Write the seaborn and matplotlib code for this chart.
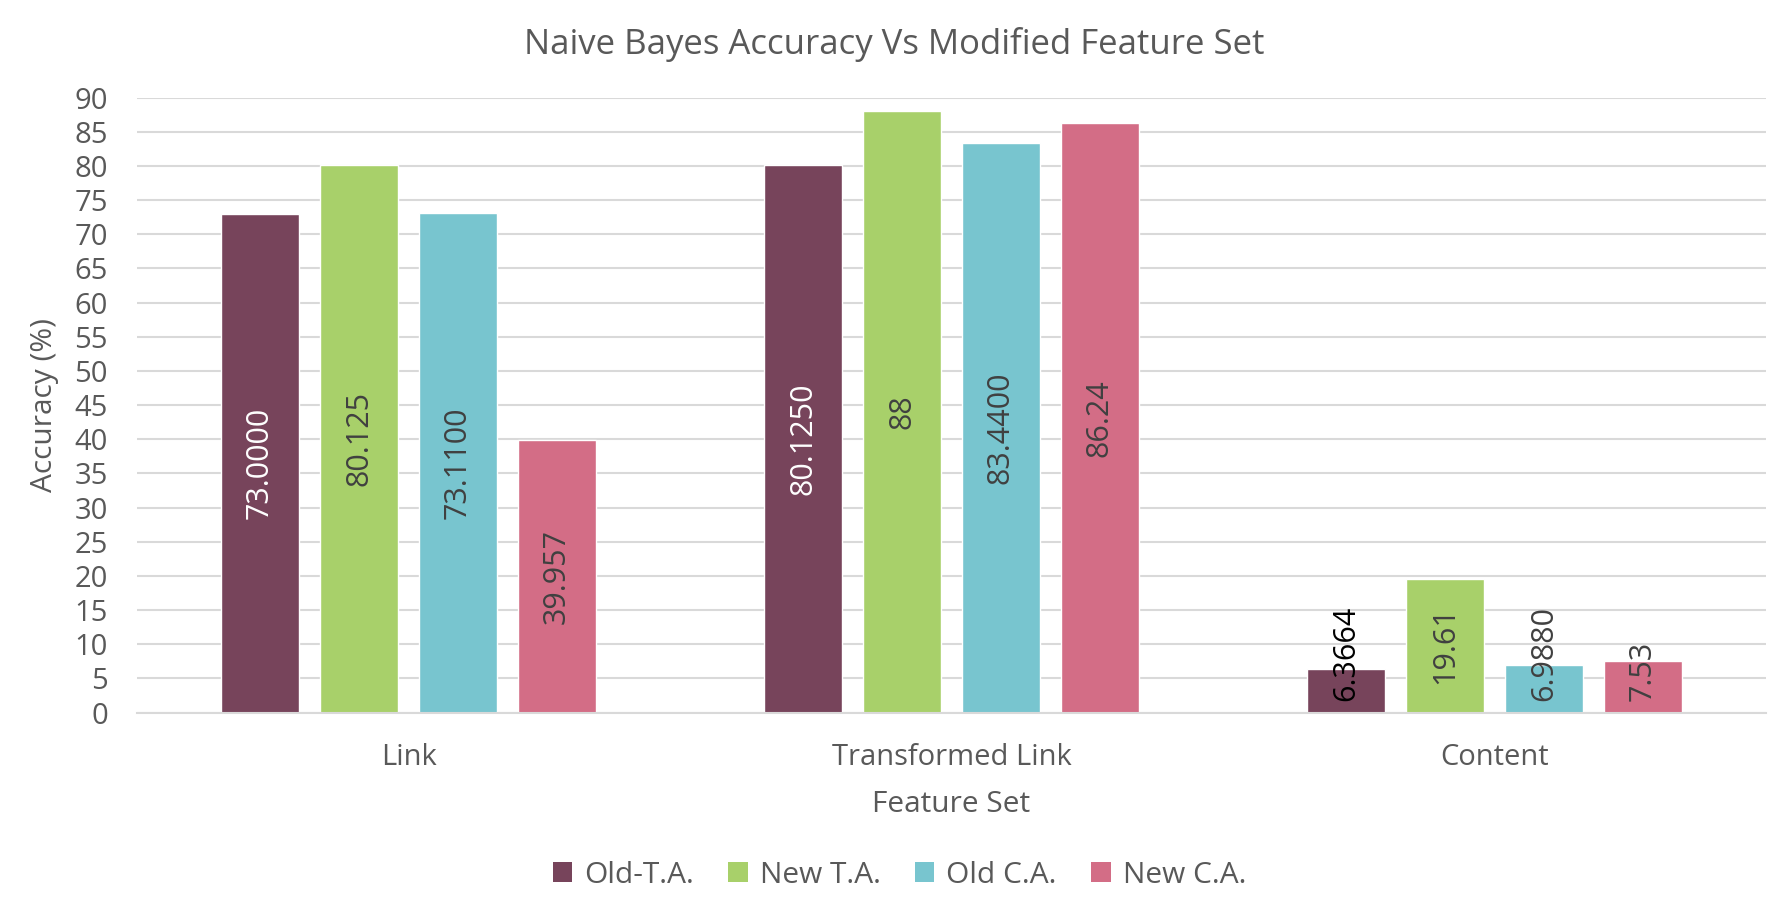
import matplotlib
matplotlib.use("Agg")
import matplotlib.pyplot as plt
import seaborn as sns
import pandas as pd
from matplotlib.patches import Patch

categories = ["Link", "Transformed Link", "Content"]
series = ["Old-T.A.", "New T.A.", "Old C.A.", "New C.A."]
old_ta = [73.0, 80.125, 6.3664]
new_ta = [80.125, 88.0, 19.61]
old_ca = [73.11, 83.44, 6.988]
new_ca = [39.957, 86.24, 7.53]
old_ta_labels = ["73.0000", "80.1250", "6.3664"]
new_ta_labels = ["80.125", "88", "19.61"]
old_ca_labels = ["73.1100", "83.4400", "6.9880"]
new_ca_labels = ["39.957", "86.24", "7.53"]
y_ticks = list(range(0, 95, 5))

values = [old_ta, new_ta, old_ca, new_ca]
labels = [old_ta_labels, new_ta_labels, old_ca_labels, new_ca_labels]
colors = ["#77445B", "#A8D06A", "#78C5CF", "#D36D86"]
text_colors = ["white", "#404040", "#404040", "#404040"]

rows = []
for s, vals in zip(series, values):
    for c, v in zip(categories, vals):
        rows.append({"Feature Set": c, "Accuracy": v, "Series": s})
df = pd.DataFrame(rows)

sns.set_theme(style="white")
plt.rcParams["font.family"] = ["Open Sans", "DejaVu Sans"]
GRAY = "#595959"

fig = plt.figure(figsize=(17.88, 9.13), dpi=100)
ax = fig.add_axes([137 / 1788, 1 - 712.5 / 913, (1766 - 137) / 1788, (712.5 - 97.7) / 913])

sns.barplot(data=df, x="Feature Set", y="Accuracy", hue="Series",
            order=categories, hue_order=series, palette=colors,
            width=0.729, gap=0.212, saturation=1, legend=False, ax=ax,
            errorbar=None)

ax.set_ylim(0, 90)
ax.set_yticks(y_ticks)
ax.yaxis.grid(True, color="#d9d9d9", linewidth=1.5)
ax.set_axisbelow(True)
for sp in ["top", "right", "left"]:
    ax.spines[sp].set_visible(False)
ax.spines["bottom"].set_color("#d9d9d9")
ax.spines["bottom"].set_linewidth(1.5)
ax.tick_params(axis="both", length=0, labelsize=21, labelcolor=GRAY)
ax.tick_params(axis="y", pad=21)
ax.tick_params(axis="x", pad=22)

ax.set_xlabel("Feature Set", fontsize=21.5, color=GRAY)
ax.set_ylabel("Accuracy (%)", fontsize=21.5, color=GRAY)
ax.xaxis.set_label_coords(0.5, -0.15)
ax.xaxis.label.set_va("center")
ax.yaxis.set_label_coords(-0.0565, 0.5)
ax.yaxis.label.set_va("center")

fig.text(0.5, 1 - 44 / 913, "Naive Bayes Accuracy Vs Modified Feature Set",
         ha="center", va="center", fontsize=25, color=GRAY)

texts = []
for i, cont in enumerate(ax.containers):
    for j, bar in enumerate(cont):
        x = bar.get_x() + bar.get_width() / 2
        h = bar.get_height()
        t = ax.text(x, h / 2, labels[i][j], rotation=90, ha="center", va="center",
                    fontsize=22, color=text_colors[i])
        texts.append((t, i))

fig.canvas.draw()
renderer = fig.canvas.get_renderer()
zero_px = ax.transData.transform((0, 0))[1]
for t, i in texts:
    bb = t.get_window_extent(renderer)
    min_bottom = zero_px + 12
    if bb.y0 < min_bottom:
        shift = min_bottom - bb.y0
        xd, yd = t.get_position()
        ypx = ax.transData.transform((xd, yd))[1] + shift
        t.set_position((xd, ax.transData.inverted().transform((0, ypx))[1]))
        if i == 0:
            t.set_color("black")

handles = [Patch(facecolor=c, edgecolor="none", label=s) for c, s in zip(colors, series)]
fig.legend(handles=handles, loc="center", bbox_to_anchor=(0.503, 1 - 875 / 913),
           ncol=4, frameon=False, fontsize=21.5, labelcolor=GRAY,
           handlelength=0.65, handleheight=0.65, handletextpad=0.4, columnspacing=1.15)

fig.savefig("out.png", dpi=100)
